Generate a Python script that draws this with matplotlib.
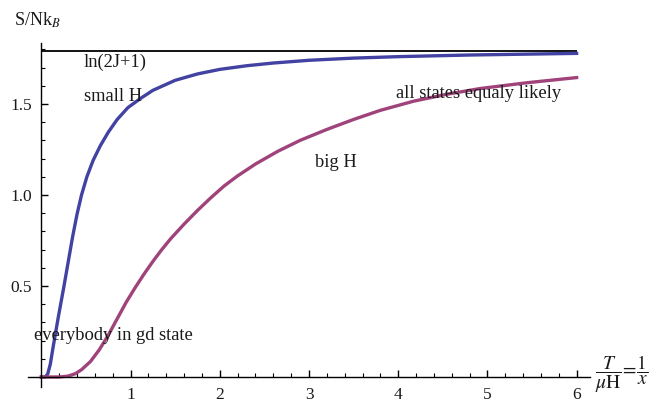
import matplotlib
matplotlib.use("Agg")
import matplotlib.pyplot as plt

plt.rcParams["font.family"] = ["Liberation Serif", "DejaVu Serif"]
plt.rcParams["mathtext.fontset"] = "stix"

# values
t_small = [0, 0.04, 0.07, 0.10, 0.13, 0.16, 0.19, 0.22, 0.25, 0.30, 0.35,
           0.40, 0.45, 0.51, 0.58, 0.66, 0.75, 0.85, 0.97, 1.11, 1.25, 1.50,
           1.75, 2.0, 2.3, 2.6, 3.0, 3.5, 4.0, 4.8, 6.0]
s_small = [0, 0.0, 0.015, 0.07, 0.16, 0.245, 0.33, 0.41, 0.49, 0.63, 0.77,
           0.895, 1.0, 1.10, 1.19, 1.27, 1.345, 1.415, 1.48, 1.53, 1.575, 1.63,
           1.665, 1.69, 1.71, 1.725, 1.74, 1.752, 1.760, 1.769, 1.778]

t_big = [0, 0.2, 0.3, 0.38, 0.45, 0.55, 0.65, 0.75, 0.85, 0.95, 1.05, 1.15,
         1.25, 1.35, 1.45, 1.6, 1.75, 1.9, 2.05, 2.2, 2.4, 2.65, 2.9, 3.2,
         3.5, 3.8, 4.17, 4.54, 4.92, 5.45, 6.0]
s_big = [0, 0.0, 0.005, 0.018, 0.04, 0.085, 0.15, 0.23, 0.32, 0.41, 0.49,
         0.565, 0.635, 0.70, 0.76, 0.84, 0.915, 0.985, 1.05, 1.105, 1.17,
         1.24, 1.30, 1.36, 1.415, 1.465, 1.515, 1.553, 1.585, 1.617, 1.645]

s_max = 1.7918  # ln(2J+1)
t_max = 6.0

blue = "#4242a2"
purple = "#a0437a"
ink = "#1a1a1a"

fig = plt.figure(figsize=(6.56, 4.05), dpi=100)
ax = fig.add_axes([28 / 656, 18 / 405, 562 / 656, 344 / 405])

ax.plot([0, t_max], [s_max, s_max], color="black", lw=1.3, solid_capstyle="butt")
ax.plot(t_small, s_small, color=blue, lw=2.4, solid_joinstyle="round")
ax.plot(t_big, s_big, color=purple, lw=2.4, solid_joinstyle="round")

ax.set_xlim(-0.15, 6.15)
ax.set_ylim(-0.055, 1.835)

for side in ["top", "right"]:
    ax.spines[side].set_visible(False)
ax.spines["left"].set_position(("data", 0))
ax.spines["bottom"].set_position(("data", 0))
ax.spines["left"].set_linewidth(1.0)
ax.spines["bottom"].set_linewidth(1.0)

ax.set_xticks([1, 2, 3, 4, 5, 6])
ax.set_xticks([round(0.2 * i, 1) for i in range(1, 31) if i % 5 != 0], minor=True)
ax.set_yticks([0.5, 1.0, 1.5])
ax.set_yticklabels(["0.5", "1.0", "1.5"])
ax.set_yticks([round(0.1 * i, 1) for i in range(1, 19) if i % 5 != 0], minor=True)
ax.tick_params(which="major", direction="in", length=5, width=1.0,
               labelsize=12.5, labelcolor=ink, pad=7)
ax.tick_params(which="minor", direction="in", length=3, width=0.8)

txt = dict(fontsize=13.3, color=ink, va="center", ha="left")
ax.text(0.47, 1.73, "ln(2J+1)", **txt)
ax.text(0.48, 1.54, "small H", **txt)
ax.text(3.97, 1.56, "all states equaly likely", **txt)
ax.text(3.07, 1.18, "big H", **txt)
ax.text(-0.08, 0.23, "everybody in gd state", **txt)

fig.text(14 / 656, 1 - 20 / 405, r"S/Nk$_B$", fontsize=13, color=ink,
         ha="left", va="center")
fig.text(622 / 656, 1 - 374 / 405, r"$\dfrac{T}{\mu\mathrm{H}}\!=\!\dfrac{1}{x}$",
         fontsize=14, color=ink, ha="center", va="center")

fig.savefig("out.png", dpi=100)
